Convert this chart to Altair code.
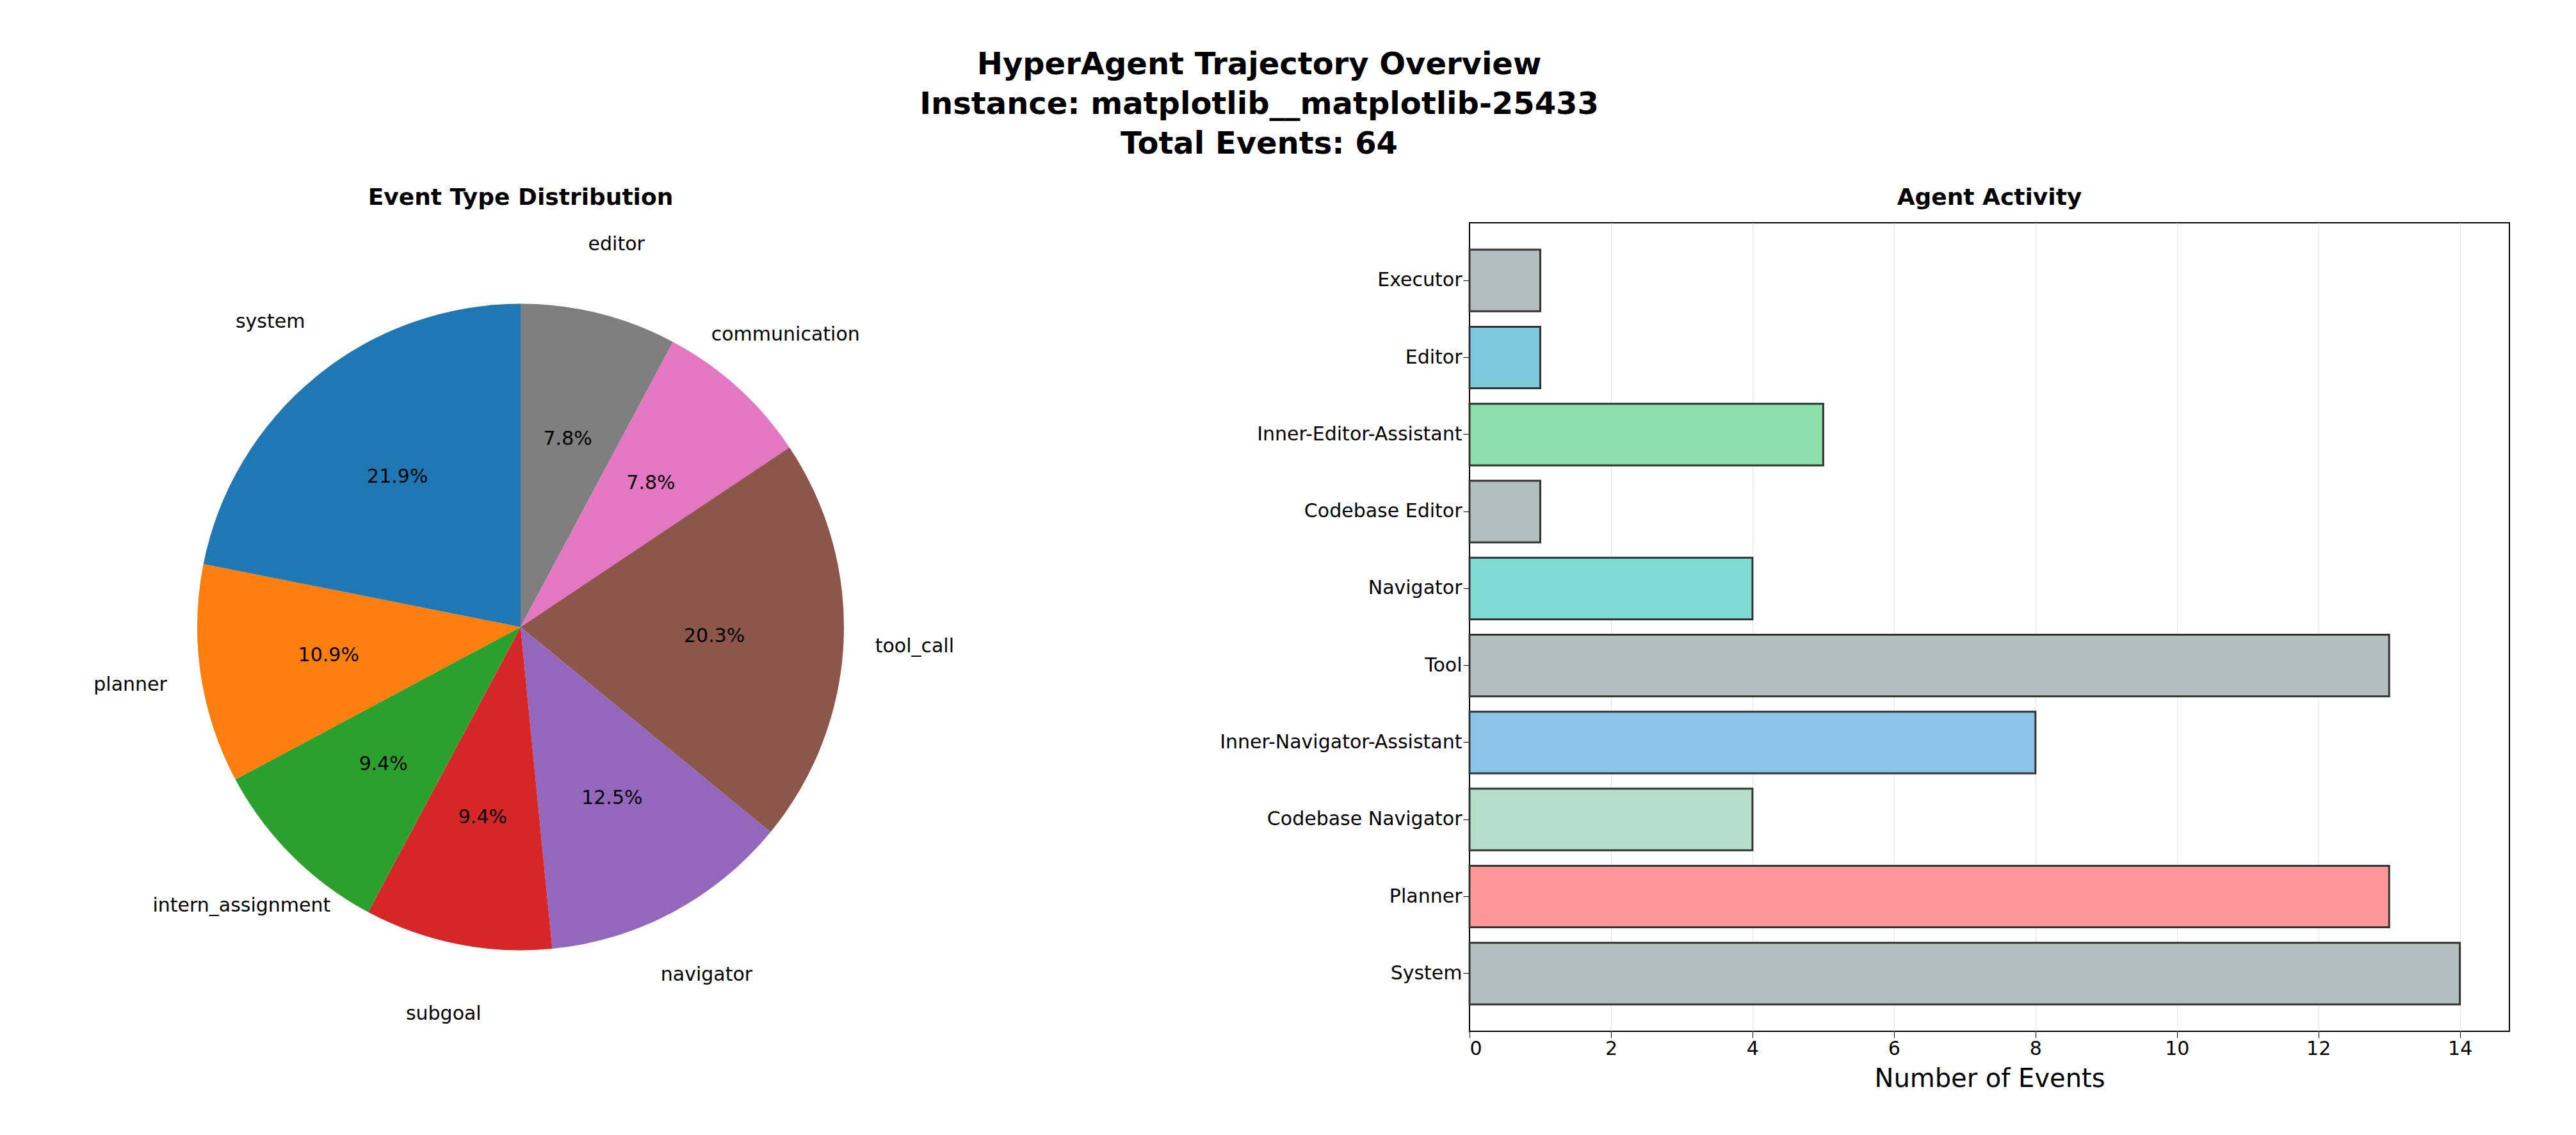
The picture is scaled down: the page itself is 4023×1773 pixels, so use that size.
import pandas as pd
import altair as alt

# Event type distribution (counts out of 64), listed clockwise from 12 o'clock
event_types = ['editor', 'communication', 'tool_call', 'navigator', 'subgoal',
               'intern_assignment', 'planner', 'system']
event_counts = [5, 5, 13, 8, 6, 6, 7, 14]
event_colors = ['#7f7f7f', '#e377c2', '#8c564b', '#9467bd', '#d62728',
                '#2ca02c', '#ff7f0e', '#1f77b4']

# Agent activity, top to bottom
agents = ['Executor', 'Editor', 'Inner-Editor-Assistant', 'Codebase Editor', 'Navigator',
          'Tool', 'Inner-Navigator-Assistant', 'Codebase Navigator', 'Planner', 'System']
agent_counts = [1, 1, 5, 1, 4, 13, 8, 4, 13, 14]
agent_colors = ['#b3bfbf', '#7ec8dc', '#8be0aa', '#b3bfbf', '#80dbd4',
                '#b3bfbf', '#8cc3e9', '#b5ddcb', '#ff9797', '#b3bfbf']

total = sum(event_counts)
pie_df = pd.DataFrame({
    'type': event_types,
    'count': event_counts,
    'order': range(len(event_types)),
    'pct': [f'{c / total * 100:.1f}%' for c in event_counts],
})
bar_df = pd.DataFrame({'agent': agents, 'count': agent_counts})

R = 505
base = alt.Chart(pie_df).encode(
    theta=alt.Theta('count:Q', stack=True),
    order=alt.Order('order:Q'),
)
slices = base.mark_arc(outerRadius=R).encode(
    color=alt.Color('type:N', scale=alt.Scale(domain=event_types, range=event_colors), legend=None)
)
pcts = base.mark_text(radius=R * 0.6, fontSize=30, color='black').encode(text='pct:N')
labels = base.mark_text(radius=R * 1.22, fontSize=30, color='black').encode(text='type:N')

pie = (slices + pcts + labels).properties(
    width=1600, height=1263,
    title=alt.TitleParams('Event Type Distribution', fontSize=36, fontWeight='bold', offset=20),
    view=alt.ViewBackground(stroke=None),
)

bars = alt.Chart(bar_df).mark_bar(stroke='#333333', strokeWidth=3).encode(
    x=alt.X('count:Q', title='Number of Events',
            scale=alt.Scale(domain=[0, 14.7], nice=False),
            axis=alt.Axis(values=list(range(0, 15, 2)), grid=True, gridColor='#e6e6e6',
                          labelFontSize=30, titleFontSize=40, titleFontWeight='normal',
                          tickSize=10, domainColor='black', tickColor='black', labelColor='black',
                          titleColor='black', titlePadding=12)),
    y=alt.Y('agent:N', sort=agents, title=None,
            scale=alt.Scale(paddingInner=0.2, paddingOuter=0.35),
            axis=alt.Axis(labelFontSize=30, tickSize=10, labelLimit=800, labelColor='black',
                          domainColor='black', tickColor='black')),
    color=alt.Color('agent:N', scale=alt.Scale(domain=agents, range=agent_colors), legend=None),
).properties(
    width=1624, height=1263,
    title=alt.TitleParams('Agent Activity', fontSize=36, fontWeight='bold', offset=20),
    view=alt.ViewBackground(stroke='black', strokeWidth=2),
)

chart = alt.hconcat(pie, bars, spacing=290).resolve_scale(color='independent').properties(
    padding={'top': 70, 'left': 5, 'right': 5, 'bottom': 5},
    title=alt.TitleParams(['HyperAgent Trajectory Overview', 'Instance: matplotlib__matplotlib-25433',
                           'Total Events: 64'], fontSize=48, fontWeight='bold', anchor='middle',
                          lineHeight=62, offset=40),
).configure(font='DejaVu Sans').configure_view(stroke=None)

chart.save("out.html", embed_options={"renderer": "svg", "actions": False})
